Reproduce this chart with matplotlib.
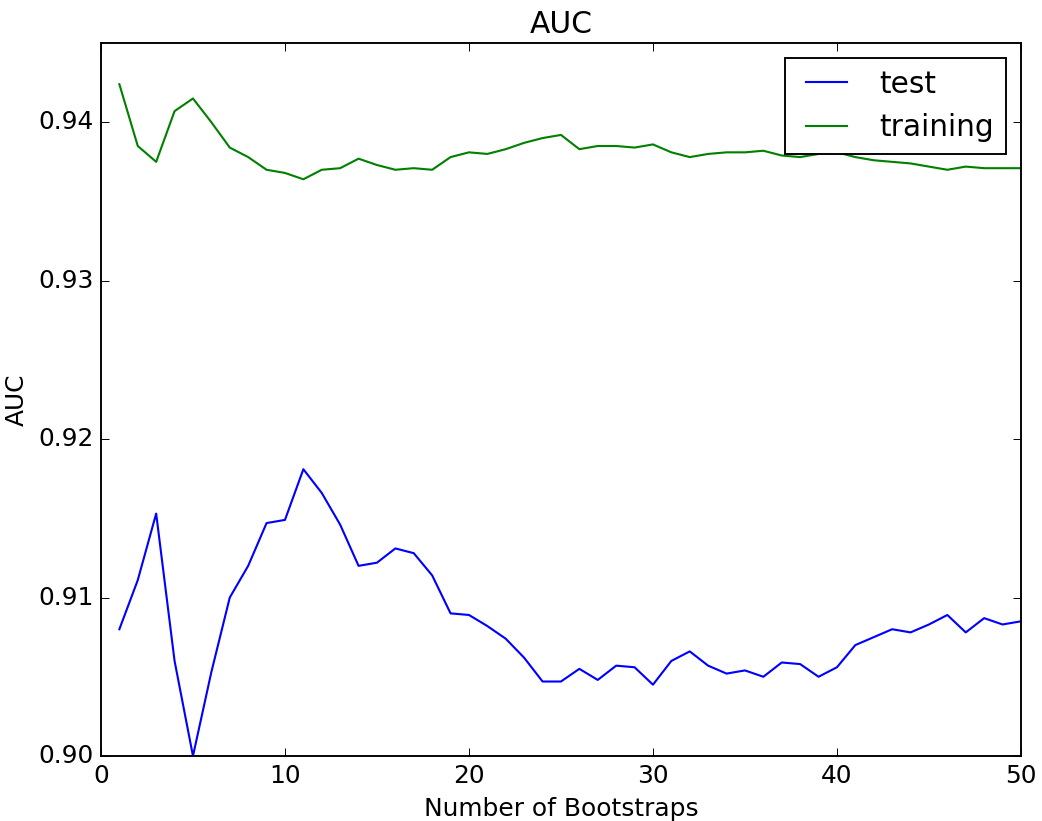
import numpy as np
import matplotlib
matplotlib.use("Agg")
import matplotlib.pyplot as plt

plt.style.use("classic")
plt.rcParams["font.size"] = 13

bootstraps = np.arange(1, 51)

test_auc = [0.9080, 0.9111, 0.9153, 0.9060, 0.9000, 0.9053, 0.9100, 0.9120, 0.9147, 0.9149,
            0.9181, 0.9166, 0.9146, 0.9120, 0.9122, 0.9131, 0.9128, 0.9114, 0.9090, 0.9089,
            0.9082, 0.9074, 0.9062, 0.9047, 0.9047, 0.9055, 0.9048, 0.9057, 0.9056, 0.9045,
            0.9060, 0.9066, 0.9057, 0.9052, 0.9054, 0.9050, 0.9059, 0.9058, 0.9050, 0.9056,
            0.9070, 0.9075, 0.9080, 0.9078, 0.9083, 0.9089, 0.9078, 0.9087, 0.9083, 0.9085]

train_auc = [0.9424, 0.9385, 0.9375, 0.9407, 0.9415, 0.9400, 0.9384, 0.9378, 0.9370, 0.9368,
             0.9364, 0.9370, 0.9371, 0.9377, 0.9373, 0.9370, 0.9371, 0.9370, 0.9378, 0.9381,
             0.9380, 0.9383, 0.9387, 0.9390, 0.9392, 0.9383, 0.9385, 0.9385, 0.9384, 0.9386,
             0.9381, 0.9378, 0.9380, 0.9381, 0.9381, 0.9382, 0.9379, 0.9378, 0.9380, 0.9381,
             0.9378, 0.9376, 0.9375, 0.9374, 0.9372, 0.9370, 0.9372, 0.9371, 0.9371, 0.9371]

dpi = 137.5
fig = plt.figure(figsize=(1042 / dpi, 821 / dpi), dpi=dpi, facecolor="white")
ax = fig.add_axes([0.0969, 0.0792, 0.9798 - 0.0969, 0.9476 - 0.0792])

ax.plot(bootstraps, test_auc, color="b", linewidth=1.1, label="test")
ax.plot(bootstraps, train_auc, color="g", linewidth=1.1, label="training")

ax.set_xlim(0, 50)
ax.set_ylim(0.90, 0.945)
ax.set_xticks([0, 10, 20, 30, 40, 50])
ax.set_yticks([0.90, 0.91, 0.92, 0.93, 0.94])
ax.set_yticklabels(["0.90", "0.91", "0.92", "0.93", "0.94"])
ax.set_title("AUC")
ax.set_xlabel("Number of Bootstraps")
ax.set_ylabel("AUC")
ax.legend(loc="upper right", fontsize=15.5)

fig.savefig("out.png", dpi=dpi, facecolor="white")
